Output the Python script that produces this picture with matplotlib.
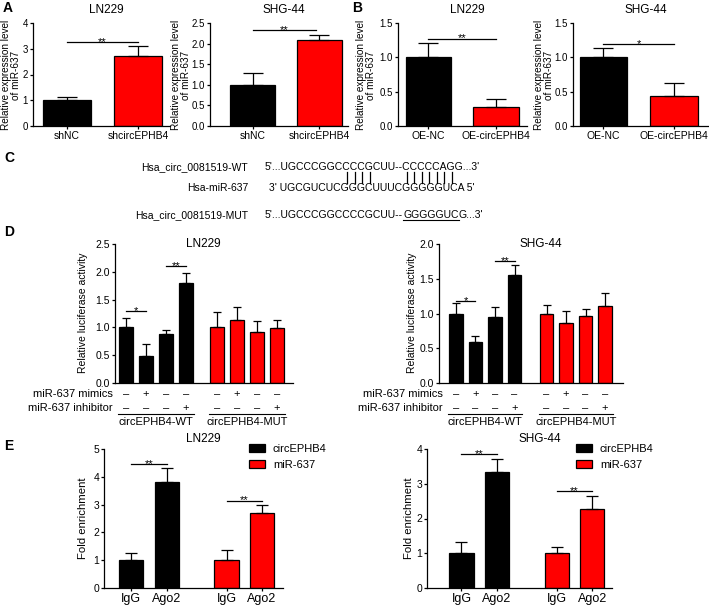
import numpy as np
import matplotlib
matplotlib.use('Agg')
import matplotlib.pyplot as plt
import matplotlib.transforms as mtransforms
from matplotlib.patches import Patch
from matplotlib.font_manager import FontProperties
from matplotlib.ticker import FormatStrFormatter

plt.rcParams['font.family'] = ['Liberation Sans', 'DejaVu Sans']
plt.rcParams['font.size'] = 8
plt.rcParams['axes.linewidth'] = 0.9

# ---------------- data ----------------
BLACK, RED = '#000000', '#ff0000'

# panel A (knockdown)
a_groups = ['shNC', 'shcircEPHB4']
a_ln229 = [1.00, 2.70]
a_ln229_err = [0.13, 0.40]
a_shg44 = [1.00, 2.08]
a_shg44_err = [0.28, 0.14]

# panel B (overexpression)
b_groups = ['OE-NC', 'OE-circEPHB4']
b_ln229 = [1.00, 0.27]
b_ln229_err = [0.21, 0.12]
b_shg44 = [1.00, 0.44]
b_shg44_err = [0.13, 0.19]

# panel C (binding sites)
c_names = ['Hsa_circ_0081519-WT', 'Hsa-miR-637', 'Hsa_circ_0081519-MUT']
c_wt = "5'...UGCCCGGCCCCGCUU--CCCCCAGG...3'"
c_mir = "3' UGCGUCUCGGGCUUUCGGGGGUCA 5'"
c_mut = ["5'...UGCCCGGCCCCGCUU--", "GGGGGUC", "G...3'"]
c_paired = [13, 14, 15, 16, 22, 23, 24, 25, 26, 27, 28]   # WT bases paired with miR-637

# panel D (luciferase)
d_groups = ['circEPHB4-WT', 'circEPHB4-MUT']
d_mimics = ['\u2013', '+', '\u2013', '\u2013'] * 2
d_inhib = ['\u2013', '\u2013', '\u2013', '+'] * 2
d_ln229 = [1.01, 0.48, 0.89, 1.79, 1.00, 1.13, 0.91, 0.99]
d_ln229_err = [0.16, 0.23, 0.07, 0.19, 0.28, 0.24, 0.20, 0.15]
d_shg44 = [1.00, 0.59, 0.95, 1.56, 1.00, 0.87, 0.97, 1.11]
d_shg44_err = [0.15, 0.08, 0.15, 0.14, 0.12, 0.16, 0.10, 0.19]

# panel E (RIP)
e_groups = ['IgG', 'Ago2', 'IgG', 'Ago2']
e_series = ['circEPHB4', 'miR-637']
e_ln229 = [1.00, 3.80, 1.00, 2.68]
e_ln229_err = [0.25, 0.52, 0.36, 0.29]
e_shg44 = [1.00, 3.33, 1.00, 2.26]
e_shg44_err = [0.33, 0.37, 0.19, 0.39]

# ---------------- helpers ----------------
W, H = 709, 606
fig = plt.figure(figsize=(W / 100, H / 100), dpi=100)


def fx(x):
    return x / W


def fy(y):
    return 1 - y / H


def px_axes(x0, y0, x1, y1):
    return fig.add_axes([fx(x0), fy(y1), (x1 - x0) / W, (y1 - y0) / H])


def style(ax, top, step, fmt, size=7):
    for s in ['top', 'right']:
        ax.spines[s].set_visible(False)
    ax.set_ylim(0, top)
    ax.set_yticks(np.arange(0, top + step / 2, step))
    ax.yaxis.set_major_formatter(FormatStrFormatter(fmt))
    ax.tick_params(labelsize=size, length=2.5, width=0.9, pad=1)


def bars(ax, pos, means, errs, colors, width, capsize):
    ax.bar(pos, means, width, color=colors, edgecolor='black', linewidth=0.9, zorder=2)
    ax.errorbar(pos, means, yerr=[np.zeros(len(errs)), errs], fmt='none',
                ecolor='black', elinewidth=0.9, capsize=capsize, capthick=0.9, zorder=3)


def sig(ax, x0, x1, y, txt):
    ax.plot([x0, x1], [y, y], color='black', lw=0.9, clip_on=False)
    ax.annotate(txt, xy=((x0 + x1) / 2, y), xytext=(0, -2), textcoords='offset points',
                ha='center', va='baseline', fontsize=8)


# ---------------- panels A & B ----------------
ab_specs = [
    (33, 170, -0.48, 1.45, 4, 1, '%d', a_ln229, a_ln229_err, a_groups, 'LN229', 11, 3.26, '**', 1),
    (210, 348, -0.64, 1.43, 2.5, 0.5, '%.1f', a_shg44, a_shg44_err, a_groups, 'SHG-44', 181, 2.33, '**', 0.95),
    (398, 527, -0.45, 1.46, 1.5, 0.5, '%.1f', b_ln229, b_ln229_err, b_groups, 'LN229', 366, 1.27, '**', 1),
    (573, 708, -0.43, 1.48, 1.5, 0.5, '%.1f', b_shg44, b_shg44_err, b_groups, 'SHG-44', 544, 1.19, '*', 1),
]
for x0, x1, xl, xr, top, step, fmt, m, e, groups, title, ylx, sy, st, se in ab_specs:
    ax = px_axes(x0, 23, x1, 126)
    bars(ax, [0, 1], m, e, [BLACK, RED], 0.67, 7)
    ax.set_xlim(xl, xr)
    style(ax, top, step, fmt)
    ax.set_xticks([0, 1])
    ax.set_xticklabels(groups, fontsize=7.5)
    sig(ax, 0, se, sy, st)
    fig.text(fx((x0 + x1) / 2 + 5), fy(10), title, ha='center', va='center', fontsize=8.5)
    fig.text(fx(ylx), fy(75), 'Relative expression level\nof miR-637', rotation=90,
             ha='center', va='center', fontsize=7.2, linespacing=1.0)

fig.text(fx(3), fy(8), 'A', fontsize=10, fontweight='bold', va='center')
fig.text(fx(352), fy(8), 'B', fontsize=10, fontweight='bold', va='center')

# ---------------- panel C ----------------
fig.text(fx(4), fy(158), 'C', fontsize=10, fontweight='bold', va='center')
rows_y = [167, 188, 215]
seq_x = 265
for name, yy in zip(c_names, rows_y):
    fig.text(fx(248), fy(yy), name, ha='right', va='center', fontsize=7.5)
fig.text(fx(seq_x), fy(rows_y[0]), c_wt, ha='left', va='center', fontsize=7.5)
fig.text(fx(269), fy(rows_y[1]), c_mir, ha='left', va='center', fontsize=7.5)

renderer = fig.canvas.get_renderer()
prop = FontProperties(family=['Liberation Sans', 'DejaVu Sans'], size=7.5)


def text_w(s):
    return renderer.get_text_width_height_descent(s, prop, ismath=False)[0]


# pairing bars placed under the paired WT bases
for i in c_paired:
    xc = seq_x + text_w(c_wt[:i]) + text_w(c_wt[i]) / 2
    fig.add_artist(plt.Line2D([fx(xc)] * 2, [fy(172), fy(183)], color='black', lw=0.9))

xcur = seq_x
for i, part in enumerate(c_mut):
    t = fig.text(fx(xcur), fy(rows_y[2]), part, ha='left', va='center', fontsize=7.5)
    bb = t.get_window_extent(renderer)
    if i == 1:
        fig.add_artist(plt.Line2D([bb.x0 / W, bb.x1 / W], [fy(rows_y[2] + 5)] * 2,
                                  color='black', lw=0.8))
    xcur = bb.x1

# ---------------- panel D ----------------
fig.text(fx(4), fy(232), 'D', fontsize=10, fontweight='bold', va='center')
d_specs = [
    (115, 293, [0, 1, 2, 3, 4.55, 5.55, 6.55, 7.55], -0.55, 8.35, 2.5, d_ln229, d_ln229_err,
     'LN229', 203, 83, 113, [(0, 1, 1.29, '*'), (2, 3, 2.10, '**')]),
    (439, 623, [0, 1, 2, 3, 4.64, 5.64, 6.64, 7.64], -0.87, 8.56, 2.0, d_shg44, d_shg44_err,
     'SHG-44', 541, 412, 443, [(0, 1, 1.18, '*'), (2, 3, 1.75, '**')]),
]
for x0, x1, pos, xl, xr, top, m, e, title, tx, ylx, rowx, sigs in d_specs:
    ax = px_axes(x0, 244, x1, 383)
    bars(ax, pos, m, e, [BLACK] * 4 + [RED] * 4, 0.7, 2.6)
    ax.set_xlim(xl, xr)
    style(ax, top, 0.5, '%.1f', 7.5)
    ax.set_xticks([])
    for a, b, yy, st in sigs:
        sig(ax, pos[a], pos[b], yy, st)
    tr = mtransforms.blended_transform_factory(ax.transData, fig.transFigure)
    for p, s1, s2 in zip(pos, d_mimics, d_inhib):
        ax.text(p, fy(394), s1, transform=tr, ha='center', va='center', fontsize=8)
        ax.text(p, fy(408), s2, transform=tr, ha='center', va='center', fontsize=8)
    for g, lab in enumerate(d_groups):
        xa, xb = pos[4 * g] - 0.4, pos[4 * g + 3] + 0.4
        ax.plot([xa, xb], [fy(414)] * 2, transform=tr, color='black', lw=0.8, clip_on=False)
        ax.text((xa + xb) / 2, fy(422), lab, transform=tr, ha='center', va='center', fontsize=8)
    fig.text(fx(rowx), fy(394), 'miR-637 mimics', ha='right', va='center', fontsize=8)
    fig.text(fx(rowx), fy(408), 'miR-637 inhibitor', ha='right', va='center', fontsize=8)
    fig.text(fx(tx), fy(244), title, ha='center', va='center', fontsize=8.5)
    fig.text(fx(ylx), fy(313), 'Relative luciferase activity', rotation=90,
             ha='center', va='center', fontsize=7.5)

# ---------------- panel E ----------------
fig.text(fx(4), fy(446), 'E', fontsize=10, fontweight='bold', va='center')
e_pos = [0, 1, 2.68, 3.68]
e_specs = [
    (104, 283, -0.77, 4.27, 5, e_ln229, e_ln229_err, 'LN229', 203, 83, 249,
     [(0, 1, 4.46), (2, 3, 3.14)]),
    (427, 612, -0.97, 4.24, 4, e_shg44, e_shg44_err, 'SHG-44', 540, 409, 576,
     [(0, 1, 3.85), (2, 3, 2.79)]),
]
for x0, x1, xl, xr, top, m, e, title, tx, ylx, lgx, sigs in e_specs:
    ax = px_axes(x0, 449, x1, 588)
    bars(ax, e_pos, m, e, [BLACK, BLACK, RED, RED], 0.68, 4.5)
    ax.set_xlim(xl, xr)
    style(ax, top, 1, '%d', 7.5)
    ax.set_xticks(e_pos)
    ax.set_xticklabels(e_groups, fontsize=9)
    for a, b, yy in sigs:
        sig(ax, e_pos[a], e_pos[b], yy, '**')
    handles = [Patch(facecolor=c, edgecolor='black', linewidth=0.9) for c in [BLACK, RED]]
    ax.legend(handles, e_series, loc='upper left', bbox_to_anchor=(fx(lgx), fy(444)),
              bbox_transform=fig.transFigure, frameon=False, fontsize=8, borderpad=0,
              borderaxespad=0, handlelength=1.45, handleheight=0.75, handletextpad=0.7,
              labelspacing=0.55)
    fig.text(fx(tx), fy(439), title, ha='center', va='center', fontsize=8.5)
    fig.text(fx(ylx), fy(518), 'Fold enrichment', rotation=90,
             ha='center', va='center', fontsize=8.2)

fig.savefig('out.png', dpi=100)
